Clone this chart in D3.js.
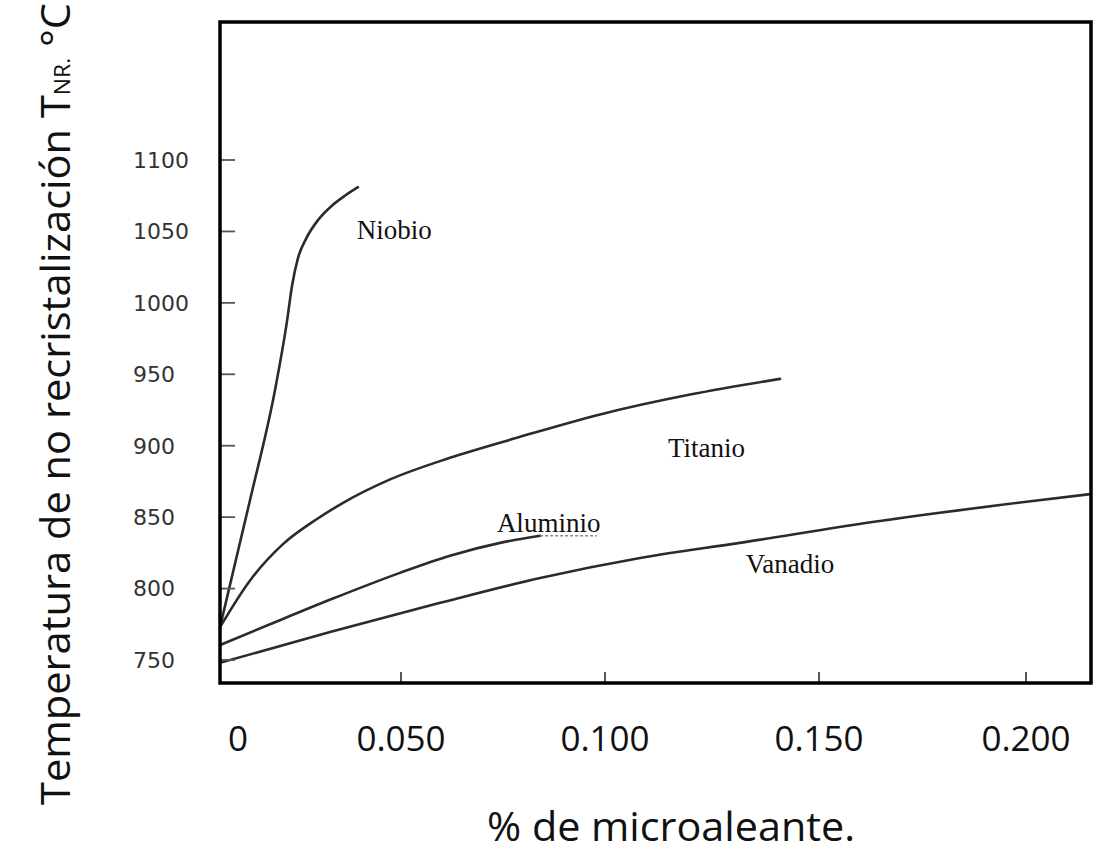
<!DOCTYPE html>
<html>
<head>
<meta charset="utf-8">
<script src="https://cdn.jsdelivr.net/npm/d3@7"></script>
<style>
  html, body { margin: 0; padding: 0; background: #fff; }
  svg { display: block; }
</style>
</head>
<body>
<div id="chart"></div>
<script>
// --- 1. DATA ---

// x = % microaleante, y = T_NR (°C)
var niobioX = [0, 0.0083, 0.0152, 0.0185, 0.0199, 0.0215, 0.0238, 0.0271, 0.0309, 0.0345, 0.0381];
var niobioY = [773, 862, 939, 987, 1012, 1031, 1045, 1058, 1068, 1075, 1081];

var titanioX = [0, 0.0083, 0.0174, 0.0268, 0.034, 0.047, 0.062, 0.0792, 0.0988, 0.1199, 0.1409];
var titanioY = [773, 805.7, 831.1, 848.7, 860, 876.4, 891.5, 906.2, 921.9, 935.8, 946.8];

var aluminioX = [0, 0.0138, 0.0312, 0.0497, 0.062, 0.0743, 0.0841];
var aluminioY = [760.5, 775, 793, 811, 823, 832, 837];
// faded tail under the label
var aluminioTailX = [0.0841, 0.098];
var aluminioTailY = [837, 837];

var vanadioX = [0, 0.0304, 0.0596, 0.0841, 0.1082, 0.1315, 0.1647, 0.1937, 0.2157];
var vanadioY = [748, 769.6, 790, 807.4, 821.4, 832, 847.3, 858.5, 866.2];

var yTicks = [750, 800, 850, 900, 950, 1000, 1050, 1100];
var xTicks = [0.05, 0.1, 0.15, 0.2];
var xTickLabels = ["0", "0.050", "0.100", "0.150", "0.200"];
var xLabelValues = [0, 0.05, 0.1, 0.15, 0.2];

var seriesNames = ["Niobio", "Titanio", "Aluminio", "Vanadio"];
// label anchor in data units (left edge, baseline)
var labelX = [0.0378, 0.1147, 0.0735, 0.1329];
var labelY = [1045, 892, 839.5, 811];

// --- 2. SETUP ---
var W = 1094, H = 856;
var frame = { left: 220, top: 22, right: 1091, bottom: 683 };

var svg = d3.select("#chart").append("svg")
    .attr("width", W)
    .attr("height", H);

// the scanned axis is hand drawn, so a piecewise linear scale fits its ticks
var x = d3.scaleLinear()
    .domain([0, 0.05, 0.1, 0.15, 0.2, 0.2157])
    .range([frame.left, 401, 605, 819, 1026, frame.right]);

var y = d3.scaleLinear()
    .domain([750, 1100])
    .range([660, 160]);

svg.append("clipPath").attr("id", "plotClip")
    .append("rect")
    .attr("x", frame.left).attr("y", frame.top)
    .attr("width", frame.right - frame.left)
    .attr("height", frame.bottom - frame.top);

// --- 3. CURVES ---
function zipSeries(xs, ys) {
    return xs.map(function(v, i) { return [v, ys[i]]; });
}

var line = d3.line()
    .x(function(d) { return x(d[0]); })
    .y(function(d) { return y(d[1]); })
    .curve(d3.curveMonotoneX);

var curves = [
    zipSeries(niobioX, niobioY),
    zipSeries(titanioX, titanioY),
    zipSeries(aluminioX, aluminioY),
    zipSeries(vanadioX, vanadioY)
];

var gCurves = svg.append("g").attr("clip-path", "url(#plotClip)");

gCurves.selectAll("path.curve")
    .data(curves)
    .enter()
    .append("path")
    .attr("class", "curve")
    .attr("d", line)
    .attr("fill", "none")
    .attr("stroke", "#2b2b2b")
    .attr("stroke-width", 2.6)
    .attr("stroke-linecap", "round");

gCurves.append("path")
    .attr("d", line(zipSeries(aluminioTailX, aluminioTailY)))
    .attr("fill", "none")
    .attr("stroke", "#8a8a8a")
    .attr("stroke-width", 1.5)
    .attr("stroke-dasharray", "3,2");

// --- 4. SERIES LABELS ---
svg.selectAll("text.series")
    .data(seriesNames)
    .enter()
    .append("text")
    .attr("class", "series")
    .attr("x", function(d, i) { return x(labelX[i]); })
    .attr("y", function(d, i) { return y(labelY[i]); })
    .attr("font-family", "'Liberation Serif', 'Times New Roman', serif")
    .attr("font-size", 27)
    .attr("fill", "#111")
    .text(function(d) { return d; });

// --- 5. AXES ---
// y ticks (inward) + labels
svg.selectAll("line.ytick")
    .data(yTicks)
    .enter()
    .append("line")
    .attr("class", "ytick")
    .attr("x1", frame.left).attr("x2", frame.left + 15)
    .attr("y1", function(d) { return y(d); })
    .attr("y2", function(d) { return y(d); })
    .attr("stroke", "#555")
    .attr("stroke-width", 1.8);

svg.selectAll("text.ylab")
    .data(yTicks)
    .enter()
    .append("text")
    .attr("class", "ylab")
    .attr("x", 133)
    .attr("y", function(d) { return y(d); })
    .attr("dy", "0.36em")
    .attr("font-family", "'DejaVu Sans', Verdana, sans-serif")
    .attr("font-size", 22)
    .attr("fill", "#333")
    .text(function(d) { return d; });

// x ticks (inward) + labels
svg.selectAll("line.xtick")
    .data(xTicks)
    .enter()
    .append("line")
    .attr("class", "xtick")
    .attr("x1", function(d) { return x(d); })
    .attr("x2", function(d) { return x(d); })
    .attr("y1", frame.bottom).attr("y2", frame.bottom - 11)
    .attr("stroke", "#444")
    .attr("stroke-width", 1.8);

svg.selectAll("text.xlab")
    .data(xTickLabels)
    .enter()
    .append("text")
    .attr("class", "xlab")
    .attr("x", function(d, i) { return x(xLabelValues[i]) + (i === 0 ? 18 : 0); })
    .attr("y", 751)
    .attr("text-anchor", "middle")
    .attr("font-family", "'Open Sans', 'Noto Sans', sans-serif")
    .attr("font-size", 35)
    .attr("fill", "#111")
    .text(function(d) { return d; });

// frame
svg.append("rect")
    .attr("x", frame.left).attr("y", frame.top)
    .attr("width", frame.right - frame.left)
    .attr("height", frame.bottom - frame.top)
    .attr("fill", "none")
    .attr("stroke", "#000")
    .attr("stroke-width", 3.5);

// --- 6. AXIS TITLES ---
svg.append("text")
    .attr("x", 671)
    .attr("y", 841)
    .attr("text-anchor", "middle")
    .attr("font-family", "'Open Sans', 'Noto Sans', sans-serif")
    .attr("font-size", 40)
    .attr("textLength", 368)
    .attr("lengthAdjust", "spacingAndGlyphs")
    .attr("fill", "#111")
    .text("% de microaleante.");

var yTitle = svg.append("text")
    .attr("transform", "translate(70,404) rotate(-90)")
    .attr("text-anchor", "middle")
    .attr("font-family", "'Open Sans', 'Noto Sans', sans-serif")
    .attr("font-size", 40)
    .attr("textLength", 802)
    .attr("lengthAdjust", "spacingAndGlyphs")
    .attr("fill", "#111");
yTitle.append("tspan").text("Temperatura de no recristalización T");
yTitle.append("tspan").attr("font-size", 22).text("NR.");
yTitle.append("tspan").text(" °C");
</script>
</body>
</html>
